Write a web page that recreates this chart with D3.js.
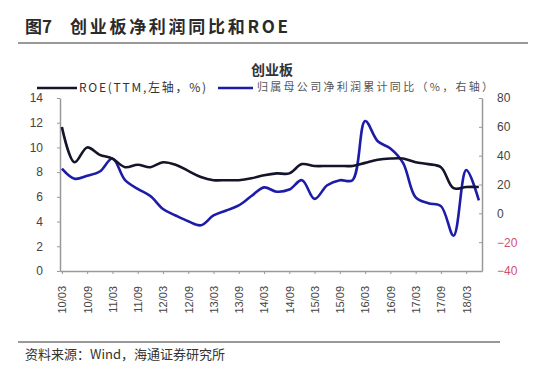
<!DOCTYPE html>
<html>
<head>
<meta charset="utf-8">
<script src="https://cdn.jsdelivr.net/npm/d3@7"></script>
<style>
  body { margin: 0; background: #fff; }
  svg { display: block; }
</style>
</head>
<body>
<div id="chart"></div>
<script>
// quarterly points, 2010Q1 .. 2018Q2
const quarters = ["10/03","10/06","10/09","10/12","11/03","11/06","11/09","11/12",
  "12/03","12/06","12/09","12/12","13/03","13/06","13/09","13/12",
  "14/03","14/06","14/09","14/12","15/03","15/06","15/09","15/12",
  "16/03","16/06","16/09","16/12","17/03","17/06","17/09","17/12",
  "18/03","18/06"];

// ROE (TTM, %), left axis
const roe = [11.65, 8.8, 10.0, 9.4, 9.1, 8.4, 8.6, 8.4,
  8.8, 8.6, 8.1, 7.6, 7.35, 7.35, 7.35, 7.5,
  7.75, 7.9, 7.9, 8.65, 8.5, 8.5, 8.5, 8.5,
  8.75, 9.0, 9.1, 9.1, 8.8, 8.65, 8.4, 6.7,
  6.8, 6.8];

// net profit attributable to parent, cumulative YoY (%), right axis
const profitYoY = [31, 24, 26, 29, 38, 23, 17, 12,
  3, -1.5, -5.5, -8.3, -1.5, 2, 5.5, 12,
  18, 15, 16.5, 23, 10, 19.5, 23, 23,
  64, 50, 45, 35, 11, 7, 5, -15.5,
  30, 9];

const leftTicks = [0, 2, 4, 6, 8, 10, 12, 14];
const rightTicks = [-40, -20, 0, 20, 40, 60, 80];

const W = 550, H = 377;
const svg = d3.select("#chart").append("svg")
  .attr("width", W).attr("height", H);

const font = "'Liberation Sans', Arial, sans-serif";
const cjk = "'Noto Sans CJK SC', sans-serif";

// title + rules
svg.append("text").attr("x", 25).attr("y", 33)
  .style("font-family", cjk).style("font-size", "17px").style("font-weight", "bold")
  .attr("fill", "#2a2a2a").text("图7");
svg.append("text").attr("x", 70).attr("y", 33)
  .attr("textLength", 218).attr("lengthAdjust", "spacing")
  .style("font-family", cjk).style("font-size", "17px").style("font-weight", "bold")
  .attr("fill", "#2a2a2a").text("创业板净利润同比和ROE");
svg.append("line").attr("x1", 18).attr("x2", 528).attr("y1", 43).attr("y2", 43)
  .attr("stroke", "#999").attr("stroke-width", 2);

svg.append("line").attr("x1", 18).attr("x2", 500).attr("y1", 342).attr("y2", 342)
  .attr("stroke", "#999").attr("stroke-width", 2);
svg.append("text").attr("x", 25).attr("y", 359)
  .style("font-family", cjk).style("font-size", "13px")
  .attr("fill", "#333").text("资料来源：Wind，海通证券研究所");

// chart subtitle
svg.append("text").attr("x", 272).attr("y", 75).attr("text-anchor", "middle")
  .style("font-family", cjk).style("font-size", "14px").style("font-weight", "bold")
  .attr("fill", "#333").text("创业板");

// scales
const x = d3.scaleLinear().domain([-0.15, 33.25]).range([60, 482]);
const yL = d3.scaleLinear().domain([0, 14]).range([271, 98]);
const yR = d3.scaleLinear().domain([-40, 80]).range([271, 98]);

const axisColor = "#999";

// left axis
const gL = svg.append("g").attr("transform", "translate(60,0)")
  .call(d3.axisLeft(yL).tickValues(leftTicks).tickSize(3).tickSizeOuter(0).tickPadding(14));
gL.selectAll("text").style("font-family", font).style("font-size", "12px").attr("fill", "#444");

// right axis
const gR = svg.append("g").attr("transform", "translate(482,0)")
  .call(d3.axisRight(yR).tickValues(rightTicks).tickSize(-3).tickSizeOuter(0).tickPadding(15));
gR.selectAll("text").style("font-family", font).style("font-size", "12px")
  .attr("fill", d => d < 0 ? "#d0506a" : "#444");

// bottom axis
const gX = svg.append("g").attr("transform", "translate(0,271)")
  .call(d3.axisBottom(x).tickValues(d3.range(0, 33, 2)).tickFormat(i => quarters[i])
    .tickSize(3).tickSizeOuter(0));
gX.selectAll("text")
  .attr("transform", "rotate(-90)")
  .attr("x", -15).attr("y", 0).attr("dy", "0.35em")
  .style("text-anchor", "end")
  .style("font-family", font).style("font-size", "11px").attr("fill", "#444");

[gL, gR, gX].forEach(g => {
  g.select(".domain").attr("stroke", axisColor).attr("stroke-width", 1.5);
  g.selectAll(".tick line").attr("stroke", axisColor);
});

// lines
const roeLine = d3.line().x((d, i) => x(i)).y(d => yL(d)).curve(d3.curveCatmullRom.alpha(0.5));
const yoyLine = d3.line().x((d, i) => x(i)).y(d => yR(d)).curve(d3.curveCatmullRom.alpha(0.5));

svg.append("path").datum(profitYoY).attr("d", yoyLine)
  .attr("fill", "none").attr("stroke", "#1c1ca8").attr("stroke-width", 2.6);
svg.append("path").datum(roe).attr("d", roeLine)
  .attr("fill", "none").attr("stroke", "#14142a").attr("stroke-width", 2.6);

// legend
svg.append("line").attr("x1", 37).attr("x2", 77).attr("y1", 88).attr("y2", 88)
  .attr("stroke", "#14142a").attr("stroke-width", 2.6);
svg.append("text").attr("x", 79).attr("y", 92)
  .attr("textLength", 127).attr("lengthAdjust", "spacing")
  .style("font-family", cjk).style("font-size", "12px").attr("fill", "#333")
  .text("ROE(TTM,左轴，%)");
svg.append("line").attr("x1", 218).attr("x2", 253).attr("y1", 88).attr("y2", 88)
  .attr("stroke", "#1c1ca8").attr("stroke-width", 2.6);
svg.append("text").attr("x", 257).attr("y", 91)
  .attr("textLength", 236).attr("lengthAdjust", "spacing")
  .style("font-family", cjk).style("font-size", "11px").attr("fill", "#555")
  .text("归属母公司净利润累计同比（%，右轴）");
</script>
</body>
</html>
